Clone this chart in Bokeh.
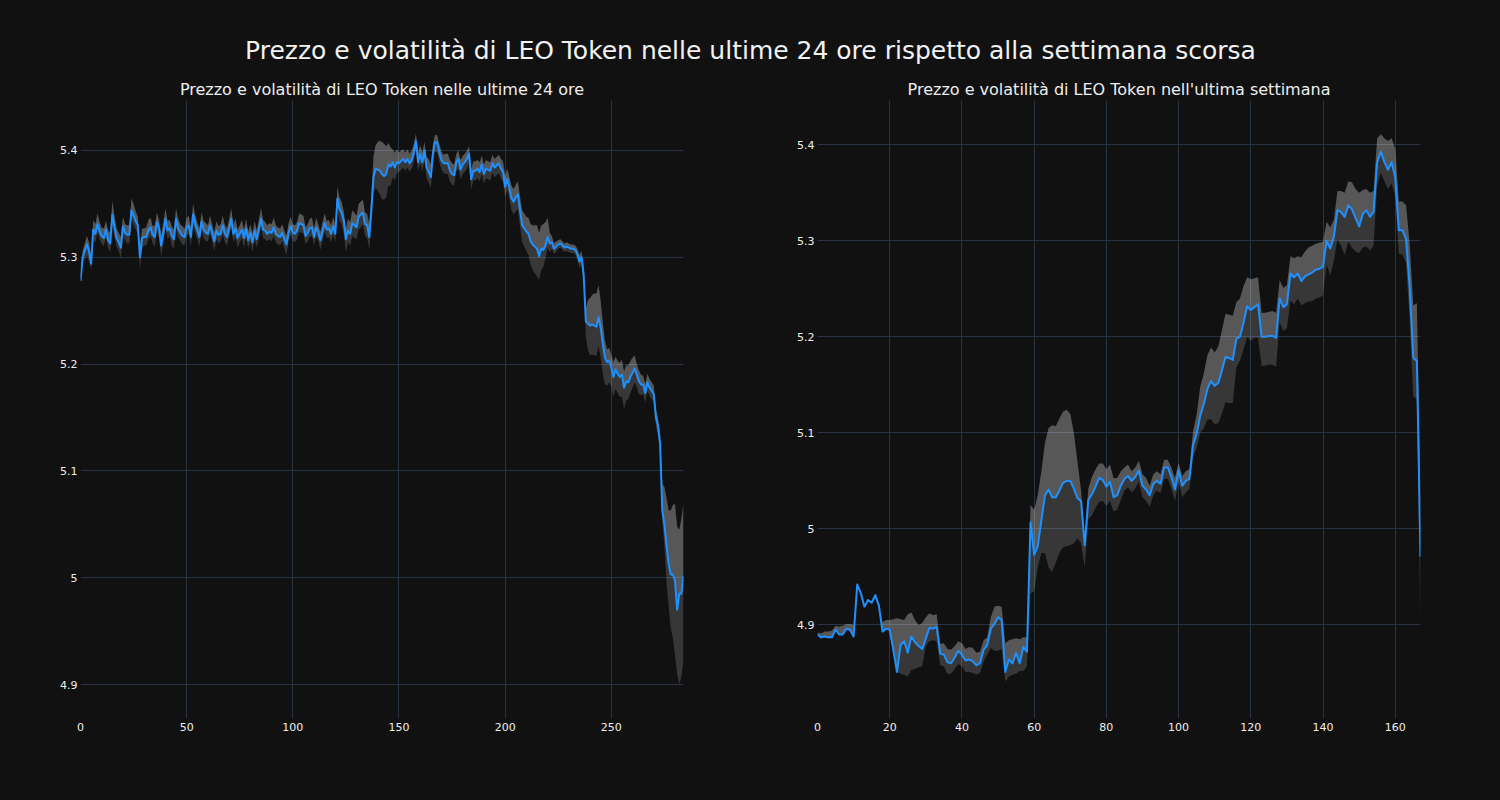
import numpy as np
from bokeh.plotting import figure
from bokeh.layouts import column, row
from bokeh.models import Range1d, FixedTicker, Label
from bokeh.embed import file_html
from bokeh.resources import INLINE

# ---------------- data: last 24 hours (5-minute points) ----------------
day_price = [
    5.278, 5.300, 5.306, 5.312, 5.306, 5.294, 5.326, 5.322, 5.331, 5.324,
    5.320, 5.318, 5.326, 5.316, 5.313, 5.340, 5.328, 5.318, 5.314, 5.309,
    5.329, 5.323, 5.321, 5.321, 5.344, 5.339, 5.334, 5.330, 5.300, 5.318,
    5.319, 5.319, 5.325, 5.328, 5.321, 5.319, 5.333, 5.327, 5.311, 5.322,
    5.336, 5.325, 5.327, 5.320, 5.317, 5.336, 5.327, 5.323, 5.320, 5.319,
    5.328, 5.330, 5.319, 5.340, 5.331, 5.325, 5.319, 5.333, 5.326, 5.323,
    5.322, 5.330, 5.323, 5.315, 5.325, 5.321, 5.322, 5.330, 5.322, 5.319,
    5.327, 5.336, 5.322, 5.327, 5.318, 5.322, 5.326, 5.318, 5.327, 5.316,
    5.323, 5.314, 5.325, 5.317, 5.326, 5.336, 5.326, 5.325, 5.322, 5.324,
    5.323, 5.328, 5.322, 5.320, 5.319, 5.323, 5.317, 5.312, 5.323, 5.329,
    5.323, 5.322, 5.325, 5.332, 5.331, 5.330, 5.320, 5.323, 5.327, 5.328,
    5.319, 5.328, 5.323, 5.316, 5.324, 5.332, 5.326, 5.327, 5.322, 5.329,
    5.322, 5.355, 5.345, 5.342, 5.334, 5.317, 5.325, 5.322, 5.332, 5.330,
    5.328, 5.338, 5.340, 5.342, 5.331, 5.330, 5.319, 5.345, 5.375, 5.383,
    5.382, 5.381, 5.378, 5.376, 5.378, 5.387, 5.385, 5.389, 5.384, 5.389,
    5.388, 5.390, 5.392, 5.389, 5.392, 5.388, 5.391, 5.398, 5.409, 5.389,
    5.397, 5.389, 5.400, 5.384, 5.380, 5.375, 5.397, 5.408, 5.407, 5.398,
    5.391, 5.388, 5.388, 5.388, 5.381, 5.378, 5.377, 5.389, 5.392, 5.382,
    5.387, 5.389, 5.392, 5.397, 5.373, 5.381, 5.381, 5.383, 5.380, 5.387,
    5.378, 5.383, 5.382, 5.381, 5.388, 5.384, 5.386, 5.388, 5.383, 5.380,
    5.366, 5.373, 5.365, 5.355, 5.352, 5.356, 5.359, 5.344, 5.330, 5.327,
    5.324, 5.322, 5.315, 5.312, 5.310, 5.308, 5.301, 5.308, 5.307, 5.311,
    5.319, 5.313, 5.314, 5.308, 5.310, 5.312, 5.313, 5.311, 5.309, 5.310,
    5.309, 5.308, 5.308, 5.307, 5.303, 5.296, 5.300, 5.283, 5.240, 5.238,
    5.236, 5.237, 5.236, 5.235, 5.244, 5.234, 5.219, 5.206, 5.202, 5.203,
    5.197, 5.188, 5.195, 5.191, 5.188, 5.190, 5.178, 5.184, 5.183, 5.188,
    5.192, 5.196, 5.190, 5.184, 5.181, 5.181, 5.173, 5.183, 5.178, 5.175,
    5.172, 5.150, 5.142, 5.125, 5.063, 5.050, 5.030, 5.013, 5.003, 5.003,
    4.997, 4.970, 4.985, 4.985, 5.002,
]
# volatility band above / below the price, in thousandths
day_vol_up = [
    4, 6, 7, 8, 8, 7, 9, 9, 10, 9,
    8, 9, 8, 9, 10, 13, 11, 9, 9, 10,
    9, 8, 9, 9, 11, 11, 9, 8, 10, 9,
    8, 9, 10, 9, 8, 11, 9, 8, 10, 10,
    10, 9, 8, 9, 9, 10, 9, 8, 9, 8,
    9, 9, 8, 10, 9, 8, 8, 9, 8, 9,
    8, 9, 8, 8, 9, 8, 9, 9, 8, 8,
    9, 10, 8, 9, 8, 8, 9, 8, 9, 8,
    8, 8, 9, 8, 9, 10, 9, 8, 8, 8,
    8, 9, 8, 8, 8, 8, 8, 8, 9, 9,
    8, 8, 8, 9, 9, 9, 8, 8, 9, 9,
    8, 9, 8, 8, 9, 9, 8, 8, 8, 9,
    8, 11, 11, 10, 9, 10, 11, 11, 12, 12,
    11, 12, 12, 12, 11, 11, 12, 14, 20, 22,
    26, 28, 30, 30, 26, 20, 18, 12, 14, 12,
    10, 10, 9, 9, 9, 9, 9, 8, 7, 9,
    8, 9, 8, 10, 12, 12, 9, 7, 7, 8,
    8, 8, 9, 9, 10, 10, 10, 8, 8, 9,
    8, 8, 8, 7, 10, 9, 9, 8, 9, 8,
    9, 8, 8, 8, 8, 8, 8, 8, 9, 10,
    10, 10, 10, 12, 12, 12, 12, 13, 14, 14,
    14, 15, 16, 18, 20, 22, 22, 22, 24, 22,
    18, 10, 6, 5, 5, 4, 4, 4, 4, 4,
    4, 4, 4, 4, 5, 6, 6, 8, 12, 22,
    26, 28, 30, 31, 30, 25, 20, 16, 12, 12,
    12, 14, 12, 12, 13, 14, 15, 15, 16, 15,
    14, 12, 10, 10, 9, 8, 8, 8, 8, 8,
    8, 8, 8, 10, 25, 35, 45, 50, 60, 65,
    72, 78, 60, 70, 68,
]
day_vol_down = [
    2, 5, 8, 10, 10, 6, 10, 8, 8, 7,
    7, 8, 7, 8, 8, 10, 9, 8, 8, 10,
    8, 7, 8, 8, 8, 9, 8, 8, 12, 10,
    8, 8, 8, 8, 8, 9, 8, 9, 10, 9,
    8, 8, 7, 9, 9, 8, 8, 8, 8, 8,
    8, 8, 9, 8, 8, 8, 9, 8, 8, 8,
    7, 8, 8, 9, 8, 8, 7, 8, 8, 8,
    8, 8, 8, 8, 9, 8, 8, 9, 8, 8,
    8, 9, 8, 8, 8, 8, 8, 8, 7, 7,
    8, 8, 8, 8, 8, 8, 9, 10, 8, 8,
    8, 8, 8, 8, 8, 8, 8, 8, 8, 8,
    8, 8, 8, 9, 8, 8, 8, 8, 8, 8,
    8, 10, 11, 11, 12, 12, 11, 11, 12, 12,
    11, 12, 12, 11, 11, 12, 12, 14, 15, 18,
    20, 22, 24, 22, 22, 20, 18, 14, 12, 10,
    8, 8, 8, 8, 8, 8, 8, 8, 9, 9,
    9, 9, 9, 10, 10, 10, 9, 9, 9, 9,
    9, 9, 10, 10, 10, 10, 10, 9, 9, 9,
    9, 9, 9, 9, 10, 9, 9, 9, 9, 9,
    9, 9, 9, 9, 9, 9, 9, 9, 9, 10,
    10, 10, 11, 11, 12, 13, 14, 15, 16, 17,
    18, 20, 22, 24, 25, 26, 22, 20, 16, 12,
    10, 8, 6, 5, 5, 4, 4, 4, 4, 4,
    4, 4, 4, 4, 5, 6, 6, 8, 15, 25,
    28, 28, 28, 27, 27, 28, 28, 25, 22, 20,
    18, 18, 18, 18, 19, 20, 20, 18, 16, 15,
    14, 13, 12, 12, 10, 9, 9, 8, 8, 8,
    8, 8, 8, 8, 10, 20, 35, 40, 50, 60,
    70, 60, 85, 78, 80,
]

# ---------------- data: last week (hourly points) ----------------
week_price = [
    4.890, 4.887, 4.888, 4.887, 4.887, 4.895, 4.890, 4.890, 4.896, 4.895,
    4.888, 4.942, 4.933, 4.919, 4.926, 4.923, 4.931, 4.920, 4.893, 4.896,
    4.895, 4.874, 4.851, 4.879, 4.883, 4.871, 4.888, 4.882, 4.878, 4.875,
    4.886, 4.897, 4.896, 4.898, 4.870, 4.869, 4.861, 4.860, 4.866, 4.873,
    4.869, 4.863, 4.864, 4.862, 4.858, 4.860, 4.874, 4.879, 4.896, 4.901,
    4.908, 4.905, 4.851, 4.864, 4.860, 4.871, 4.860, 4.877, 4.872, 5.007,
    4.973, 4.982, 5.009, 5.035, 5.041, 5.033, 5.033, 5.040, 5.048, 5.050,
    5.050, 5.042, 5.032, 5.029, 4.983, 5.030, 5.036, 5.044, 5.053, 5.051,
    5.044, 5.049, 5.033, 5.035, 5.045, 5.052, 5.055, 5.050, 5.054, 5.061,
    5.045, 5.041, 5.035, 5.047, 5.050, 5.047, 5.064, 5.064, 5.054, 5.041,
    5.061, 5.045, 5.050, 5.052, 5.087, 5.099, 5.118, 5.130, 5.146, 5.154,
    5.149, 5.152, 5.165, 5.179, 5.178, 5.176, 5.198, 5.200, 5.215, 5.232,
    5.228, 5.231, 5.234, 5.200, 5.200, 5.201, 5.201, 5.199, 5.240, 5.231,
    5.234, 5.266, 5.262, 5.266, 5.258, 5.263, 5.265, 5.267, 5.270, 5.271,
    5.273, 5.300, 5.292, 5.304, 5.332, 5.330, 5.325, 5.337, 5.333, 5.324,
    5.315, 5.328, 5.332, 5.325, 5.330, 5.382, 5.393, 5.382, 5.374, 5.382,
    5.366, 5.311, 5.311, 5.302, 5.252, 5.178, 5.175, 4.971,
]
week_vol_up = [
    2, 4, 5, 6, 7, 4, 8, 9, 5, 6,
    12, 0, 0, 0, 0, 0, 0, 0, 10, 9,
    10, 32, 56, 27, 22, 40, 25, 23, 22, 27,
    22, 15, 14, 13, 10, 12, 14, 14, 12, 10,
    12, 12, 13, 14, 13, 12, 10, 8, 12, 18,
    12, 14, 30, 20, 25, 15, 25, 10, 15, 18,
    47, 53, 51, 55, 64, 75, 74, 75, 74, 74,
    70, 58, 38, 11, 7, 12, 18, 18, 15, 17,
    18, 18, 20, 18, 15, 12, 12, 10, 10, 10,
    12, 12, 10, 10, 10, 10, 8, 8, 10, 12,
    8, 10, 10, 10, 15, 20, 30, 32, 35, 35,
    35, 38, 42, 45, 45, 46, 38, 40, 38, 30,
    32, 30, 28, 25, 25, 25, 26, 26, 19, 20,
    20, 18, 20, 18, 25, 26, 28, 28, 27, 27,
    26, 20, 22, 18, 20, 22, 25, 25, 28, 30,
    35, 25, 22, 25, 22, 25, 18, 25, 30, 25,
    30, 30, 30, 35, 45, 55, 60, 60,
]
week_vol_down = [
    0, 0, 0, 0, 0, 0, 0, 0, 0, 0,
    0, 0, 0, 0, 0, 0, 0, 0, 0, 0,
    0, 0, 0, 30, 35, 25, 35, 28, 22, 18,
    8, 14, 12, 15, 12, 12, 12, 11, 12, 14,
    12, 12, 13, 12, 10, 10, 12, 10, 20, 28,
    35, 30, 10, 18, 12, 22, 8, 25, 15, 74,
    38, 22, 34, 60, 81, 78, 68, 65, 67, 68,
    67, 57, 42, 44, 23, 20, 22, 22, 25, 22,
    20, 20, 15, 15, 15, 12, 12, 12, 12, 12,
    12, 12, 12, 12, 10, 10, 12, 12, 12, 12,
    12, 12, 12, 10, 12, 15, 18, 25, 32, 40,
    40, 42, 45, 47, 47, 45, 30, 25, 28, 32,
    32, 32, 35, 30, 30, 30, 30, 30, 25, 25,
    25, 28, 28, 26, 25, 28, 28, 30, 30, 30,
    30, 25, 28, 25, 30, 35, 40, 38, 40, 35,
    28, 35, 38, 35, 35, 25, 22, 20, 20, 22,
    20, 25, 25, 25, 35, 40, 40, 80,
]

# ---------------- ticks and texts ----------------
day_x_ticks = [0, 50, 100, 150, 200, 250]
week_x_ticks = [0, 20, 40, 60, 80, 100, 120, 140, 160]
y_ticks = [4.9, 5.0, 5.1, 5.2, 5.3, 5.4]
y_tick_labels = ["4.9", "5", "5.1", "5.2", "5.3", "5.4"]
main_title = "Prezzo e volatilità di LEO Token nelle ultime 24 ore rispetto alla settimana scorsa"
day_title = "Prezzo e volatilità di LEO Token nelle ultime 24 ore"
week_title = "Prezzo e volatilità di LEO Token nell'ultima settimana"

BG = "#111111"
GRID = "#283442"
TEXT = "#eeeeee"
LINE = "#1e90ff"
FONT = "DejaVu Sans"

PAGE_W = 1500
HEAD_H = 100
PANEL_W = 750
PANEL_H = 700
OUTER = 80   # border on the outer side of each panel
INNER = 67   # border on the inner side of each panel
BOTTOM = 82


def make_panel(price, vol_up, vol_down, x_ticks, y_range, border_left, border_right):
    price = np.asarray(price, dtype=float)
    x = np.arange(len(price))
    upper = price + np.asarray(vol_up) / 1000.0
    lower = price - np.asarray(vol_down) / 1000.0

    p = figure(width=PANEL_W, height=PANEL_H, output_backend="svg", toolbar_location=None,
               title=None,
               x_range=Range1d(0, len(price) - 1), y_range=Range1d(*y_range),
               min_border_left=border_left, min_border_right=border_right,
               min_border_top=0, min_border_bottom=BOTTOM,
               background_fill_color=BG, border_fill_color=BG)
    p.outline_line_color = None

    p.varea(x=x, y1=lower, y2=upper, fill_color="white", fill_alpha=0.16)
    p.varea(x=x, y1=price, y2=upper, fill_color="white", fill_alpha=0.16)
    p.line(x, price, line_color=LINE, line_width=2, line_join="round")

    p.xaxis.ticker = FixedTicker(ticks=x_ticks)
    p.yaxis.ticker = FixedTicker(ticks=y_ticks)
    p.yaxis.major_label_overrides = dict(zip(y_ticks, y_tick_labels))
    for ax in (p.xaxis, p.yaxis):
        ax.axis_line_color = None
        ax.major_tick_line_color = None
        ax.minor_tick_line_color = None
        ax.major_tick_out = 0
        ax.major_tick_in = 0
        ax.major_label_text_color = TEXT
        ax.major_label_text_font = FONT
        ax.major_label_text_font_size = "11px"
    p.xaxis.major_label_standoff = 4
    p.yaxis.major_label_standoff = 3
    p.grid.grid_line_color = GRID
    p.grid.grid_line_width = 1
    return p


p_day = make_panel(day_price, day_vol_up, day_vol_down, day_x_ticks,
                   (4.8682, 5.4468), OUTER, INNER)
p_week = make_panel(week_price, week_vol_up, week_vol_down, week_x_ticks,
                    (4.8025, 5.4462), INNER, OUTER)

# header strip with the main title and the two panel titles
head = figure(width=PAGE_W, height=HEAD_H, output_backend="svg", toolbar_location=None,
              title=None, x_range=Range1d(0, PAGE_W), y_range=Range1d(0, HEAD_H),
              x_axis_type=None, y_axis_type=None, min_border=0,
              background_fill_color=BG, border_fill_color=BG)
head.outline_line_color = None
head.add_layout(Label(x=PAGE_W / 2, y=HEAD_H - 50, text=main_title, text_align="center",
                      text_baseline="middle", text_color="#f2f2f2",
                      text_font=FONT, text_font_size="25px"))
frame_w = PANEL_W - OUTER - INNER
for cx, t in ((OUTER + frame_w / 2, day_title),
              (PANEL_W + INNER + frame_w / 2, week_title)):
    head.add_layout(Label(x=cx, y=HEAD_H - 89, text=t, text_align="center",
                          text_baseline="middle", text_color=TEXT,
                          text_font=FONT, text_font_size="16px"))

layout = column(head, row(p_day, p_week), styles={"background-color": BG})

html = file_html(layout, INLINE)
html = html.replace("</head>", "<style>html,body{background:#111111;}</style></head>", 1)
open("out.html", "w").write(html)
